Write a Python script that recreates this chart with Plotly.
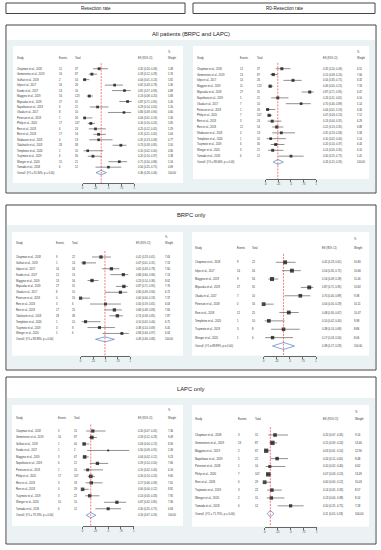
import plotly.graph_objects as go

# ------------------------------------------------------------------ data
# All patients - resection rate
A_res_study = ["Chapman et al., 2018", "Gemenetzis et al., 2019", "Gulhati et al., 2019", "Ielpo et al., 2017",
               "Kondo et al., 2017", "Maggino et al., 2019", "Miyasaka et al., 2019", "Napolitano et al., 2019",
               "Okada et al., 2017", "Peterson et al., 2018", "Philip et al., 2020", "Reni et al., 2018",
               "Reni et al., 2018", "Shabason et al., 2018", "Takahashi et al., 2018", "Templeton et al., 2020",
               "Tsujimoto et al., 2019", "Wenger et al., 2020", "Yamada et al., 2018"]
A_res_events = [12, 16, 2, 16, 13, 16, 27, 6, 8, 1, 17, 6, 17, 4, 28, 1, 6, 15, 6]
A_res_total = [37, 87, 54, 26, 16, 123, 31, 21, 10, 26, 107, 24, 54, 13, 38, 10, 30, 21, 12]
A_res_es = [0.32, 0.18, 0.04, 0.62, 0.81, 0.13, 0.87, 0.29, 0.80, 0.04, 0.16, 0.25, 0.31, 0.31, 0.74, 0.10, 0.20, 0.71, 0.50]
A_res_lo = [0.20, 0.12, 0.01, 0.43, 0.57, 0.08, 0.71, 0.14, 0.49, 0.01, 0.10, 0.12, 0.21, 0.13, 0.58, 0.02, 0.10, 0.50, 0.25]
A_res_hi = [0.49, 0.28, 0.13, 0.78, 0.93, 0.20, 0.95, 0.50, 0.94, 0.19, 0.24, 0.45, 0.45, 0.58, 0.85, 0.40, 0.37, 0.86, 0.75]
A_res_weight = [5.48, 5.76, 5.82, 5.30, 4.89, 5.83, 5.40, 5.16, 4.60, 5.30, 5.85, 5.29, 5.64, 4.77, 5.50, 4.80, 5.38, 5.16, 4.69]
A_res_overall = [0.36, 0.26, 0.46]
A_res_i2 = "91.84%"

# All patients - R0 resection rate
A_r0_study = ["Chapman et al., 2018", "Gemenetzis et al., 2019", "Ielpo et al., 2017", "Maggino et al., 2019",
              "Miyasaka et al., 2019", "Napolitano et al., 2019", "Okada et al., 2017", "Peterson et al., 2018",
              "Philip et al., 2020", "Reni et al., 2018", "Reni et al., 2018", "Shabason et al., 2018",
              "Templeton et al., 2020", "Tsujimoto et al., 2019", "Wenger et al., 2020", "Yamada et al., 2018"]
A_r0_events = [12, 13, 14, 11, 27, 5, 7, 1, 7, 3, 12, 4, 1, 6, 3, 6]
A_r0_total = [37, 87, 26, 123, 31, 21, 10, 26, 107, 24, 54, 13, 10, 30, 21, 12]
A_r0_es = [0.32, 0.15, 0.54, 0.09, 0.87, 0.24, 0.70, 0.04, 0.07, 0.13, 0.22, 0.31, 0.10, 0.20, 0.14, 0.50]
A_r0_lo = [0.20, 0.09, 0.35, 0.05, 0.71, 0.11, 0.40, 0.01, 0.03, 0.04, 0.13, 0.13, 0.02, 0.10, 0.05, 0.25]
A_r0_hi = [0.49, 0.24, 0.71, 0.15, 0.95, 0.45, 0.89, 0.19, 0.13, 0.31, 0.35, 0.58, 0.40, 0.37, 0.35, 0.75]
A_r0_weight = [6.51, 7.06, 6.32, 7.18, 6.47, 6.10, 5.14, 6.30, 7.12, 6.29, 6.88, 5.58, 5.14, 6.44, 6.10, 5.41]
A_r0_overall = [0.24, 0.15, 0.35]
A_r0_i2 = "88.66%"

# BRPC only - resection rate
B_res_study = ["Chapman et al., 2018", "Gulhati et al., 2019", "Ielpo et al., 2017", "Kondo et al., 2017",
               "Maggino et al., 2019", "Miyasaka et al., 2019", "Okada et al., 2017", "Peterson et al., 2018",
               "Reni et al., 2018", "Reni et al., 2018", "Takahashi et al., 2018", "Templeton et al., 2020",
               "Tsujimoto et al., 2019", "Wenger et al., 2020"]
B_res_events = [9, 1, 16, 12, 13, 27, 8, 0, 3, 17, 28, 1, 3, 5]
B_res_total = [22, 14, 26, 14, 56, 31, 10, 16, 6, 25, 38, 10, 8, 6]
B_res_es = [0.41, 0.07, 0.62, 0.86, 0.23, 0.87, 0.80, 0.00, 0.50, 0.68, 0.74, 0.10, 0.38, 0.83]
B_res_lo = [0.23, 0.01, 0.43, 0.60, 0.14, 0.71, 0.49, 0.00, 0.19, 0.48, 0.58, 0.02, 0.14, 0.44]
B_res_hi = [0.61, 0.31, 0.78, 0.96, 0.36, 0.95, 0.94, 0.19, 0.81, 0.83, 0.85, 0.40, 0.69, 0.97]
B_res_weight = [7.63, 7.13, 7.60, 7.13, 8.02, 7.76, 6.75, 7.37, 6.03, 7.63, 7.87, 6.75, 6.45, 6.03]
B_res_overall = [0.49, 0.30, 0.68]
B_res_i2 = "88.88%"

# BRPC only - R0 resection rate
B_r0_study = ["Chapman et al., 2018", "Ielpo et al., 2017", "Maggino et al., 2019", "Miyasaka et al., 2019",
              "Okada et al., 2017", "Peterson et al., 2018", "Reni et al., 2018", "Templeton et al., 2020",
              "Tsujimoto et al., 2019", "Wenger et al., 2020"]
B_r0_events = [9, 14, 9, 27, 7, 0, 12, 1, 3, 1]
B_r0_total = [22, 26, 56, 31, 10, 16, 25, 10, 8, 6]
B_r0_es = [0.41, 0.54, 0.16, 0.87, 0.70, 0.00, 0.48, 0.10, 0.38, 0.17]
B_r0_lo = [0.23, 0.35, 0.09, 0.71, 0.40, 0.00, 0.30, 0.02, 0.14, 0.03]
B_r0_hi = [0.61, 0.71, 0.28, 0.95, 0.89, 0.19, 0.67, 0.40, 0.69, 0.56]
B_r0_weight = [10.80, 10.66, 11.46, 10.82, 9.38, 10.11, 10.47, 9.38, 8.86, 8.06]
B_r0_overall = [0.38, 0.17, 0.59]
B_r0_i2 = "89.99%"

# LAPC only - resection rate
L_res_study = ["Chapman et al., 2018", "Gemenetzis et al., 2019", "Gulhati et al., 2019", "Kondo et al., 2017",
               "Maggino et al., 2019", "Napolitano et al., 2019", "Peterson et al., 2018", "Philip et al., 2020",
               "Reni et al., 2018", "Reni et al., 2018", "Tsujimoto et al., 2019", "Wenger et al., 2020",
               "Yamada et al., 2018"]
L_res_events = [3, 16, 1, 1, 3, 6, 1, 17, 3, 0, 3, 10, 6]
L_res_total = [15, 87, 40, 2, 67, 21, 10, 107, 18, 29, 22, 15, 12]
L_res_es = [0.20, 0.18, 0.03, 0.50, 0.04, 0.29, 0.10, 0.16, 0.17, 0.00, 0.14, 0.67, 0.50]
L_res_lo = [0.07, 0.12, 0.00, 0.09, 0.02, 0.14, 0.02, 0.10, 0.06, 0.00, 0.05, 0.42, 0.25]
L_res_hi = [0.45, 0.28, 0.13, 0.91, 0.12, 0.50, 0.40, 0.24, 0.39, 0.12, 0.33, 0.85, 0.75]
L_res_weight = [7.36, 9.49, 8.56, 2.49, 9.23, 7.66, 6.16, 9.60, 7.61, 8.81, 7.95, 7.36, 6.63]
L_res_overall = [0.16, 0.07, 0.26]
L_res_i2 = "79.19%"

# LAPC only - R0 resection rate
L_r0_study = ["Chapman et al., 2018", "Gemenetzis et al., 2019", "Maggino et al., 2019", "Napolitano et al., 2019",
              "Peterson et al., 2018", "Philip et al., 2020", "Reni et al., 2018", "Tsujimoto et al., 2019",
              "Wenger et al., 2020", "Yamada et al., 2018"]
L_r0_events = [3, 13, 2, 5, 1, 7, 0, 3, 2, 6]
L_r0_total = [15, 87, 67, 21, 10, 107, 29, 22, 15, 12]
L_r0_es = [0.20, 0.15, 0.03, 0.24, 0.10, 0.07, 0.00, 0.14, 0.13, 0.50]
L_r0_lo = [0.07, 0.09, 0.01, 0.11, 0.02, 0.03, 0.00, 0.05, 0.04, 0.25]
L_r0_hi = [0.45, 0.24, 0.10, 0.45, 0.40, 0.13, 0.12, 0.33, 0.38, 0.75]
L_r0_weight = [9.14, 13.40, 12.90, 8.48, 6.62, 13.49, 10.03, 8.57, 8.14, 7.28]
L_r0_overall = [0.11, 0.05, 0.18]
L_r0_i2 = "71.75%"

tick_vals = [0, 0.25, 0.5, 0.75, 1]
tick_text = ["0", ".25", ".5", ".75", "1"]
col_headers = ["Study", "Events", "Total", "ES (95% CI)"]
top_headers = ["Resection rate", "R0-Resection rate"]
section_titles = ["All patients (BRPC and LAPC)", "BRPC only", "LAPC only"]

# ------------------------------------------------------------------ geometry (pixels)
W, H = 381, 550
FONT = "Liberation Sans"
TEAL = "#eaf2f3"
TXT = "#333"


def PX(x):
    return x / W


def PY(y):
    return 1 - y / H


panels = [
    (A_res_study, A_res_events, A_res_total, A_res_es, A_res_lo, A_res_hi, A_res_weight, A_res_overall, A_res_i2,
     dict(x0v=82, x1v=134, axis_y=183, wx=(12, 183), top_y=46, row0=68.7, drow=5.47,
          cols=(14, 56, 72, 136, 166), hp=52, hy=58, fs=2.6)),
    (A_r0_study, A_r0_events, A_r0_total, A_r0_es, A_r0_lo, A_r0_hi, A_r0_weight, A_r0_overall, A_r0_i2,
     dict(x0v=266, x1v=317, axis_y=179, wx=(193, 370), top_y=46, row0=68.7, drow=5.83,
          cols=(195, 238, 255, 322, 356), hp=52, hy=58, fs=2.6)),
    (B_res_study, B_res_events, B_res_total, B_res_es, B_res_lo, B_res_hi, B_res_weight, B_res_overall, B_res_i2,
     dict(x0v=80, x1v=130, axis_y=355.7, wx=(11, 183), top_y=232, row0=257, drow=5.88,
          cols=(13.3, 53.3, 69, 133.3, 163.3), hp=237, hy=243, fs=2.6)),
    (B_r0_study, B_r0_events, B_r0_total, B_r0_es, B_r0_lo, B_r0_hi, B_r0_weight, B_r0_overall, B_r0_i2,
     dict(x0v=264, x1v=316.7, axis_y=355.7, wx=(192, 370), top_y=232, row0=262.3, drow=8.37,
          cols=(192.7, 235, 250, 320.7, 353.3), hp=239.3, hy=247.7, fs=2.65)),
    (L_res_study, L_res_events, L_res_total, L_res_es, L_res_lo, L_res_hi, L_res_weight, L_res_overall, L_res_i2,
     dict(x0v=82, x1v=133.5, axis_y=526, wx=(11, 183), top_y=405, row0=431, drow=6.48,
          cols=(13.3, 55, 71.7, 136, 165.7), hp=410, hy=417.7, fs=2.6)),
    (L_r0_study, L_r0_events, L_r0_total, L_r0_es, L_r0_lo, L_r0_hi, L_r0_weight, L_r0_overall, L_r0_i2,
     dict(x0v=265, x1v=317.3, axis_y=526.7, wx=(192, 370), top_y=405, row0=435, drow=7.87,
          cols=(192.7, 236.7, 253.3, 321.7, 354.3), hp=411.7, hy=419.3, fs=2.75)),
]

sections = [  # box y0, y1, title y, teal y0
    (25, 193, 34, 40),
    (205, 370, 215, 225),
    (377, 544, 389, 398),
]

fig = go.Figure()
shapes = []
annotations = []
axes = {}

# header boxes
for (x0, x1), txt in zip([(5, 185), (193, 376)], top_headers):
    shapes.append(dict(type="rect", xref="paper", yref="paper", x0=PX(x0), x1=PX(x1), y0=PY(13.5), y1=PY(3),
                       line=dict(color="#444", width=1), fillcolor="white", layer="below"))
    annotations.append(dict(xref="paper", yref="paper", x=PX((x0 + x1) / 2), y=PY(8.3), text=txt, showarrow=False,
                            font=dict(size=4.6, color="#222", family=FONT), xanchor="center", yanchor="middle"))

# section boxes
for (y0, y1, ty, t0), title in zip(sections, section_titles):
    shapes.append(dict(type="rect", xref="paper", yref="paper", x0=PX(5), x1=PX(377), y0=PY(y1), y1=PY(y0),
                       line=dict(color="#444", width=1), fillcolor="white", layer="below"))
    shapes.append(dict(type="rect", xref="paper", yref="paper", x0=PX(6), x1=PX(376), y0=PY(y1 - 1), y1=PY(t0),
                       line=dict(width=0), fillcolor=TEAL, layer="below"))
    annotations.append(dict(xref="paper", yref="paper", x=PX(191), y=PY(ty), text=title, showarrow=False,
                            font=dict(size=5.8, color="#222", family=FONT), xanchor="center", yanchor="middle"))

for k, (study, events, total, es, lo, hi, wt, ov, i2, g) in enumerate(panels, start=1):
    sfx = "" if k == 1 else str(k)
    xa, ya = "x" + sfx, "y" + sfx
    n = len(study)
    vb = -(g["axis_y"] - g["row0"]) / g["drow"]
    vt = (g["row0"] - g["top_y"]) / g["drow"]
    axes["xaxis" + sfx] = dict(domain=[PX(g["x0v"]), PX(g["x1v"])], range=[0, 1], anchor=ya,
                               showline=True, linecolor="#666", linewidth=0.6, ticks="outside", ticklen=2,
                               tickwidth=0.6, tickcolor="#666", tickvals=tick_vals, ticktext=tick_text,
                               tickfont=dict(size=2.6, color="#333", family=FONT), showgrid=False, zeroline=False,
                               fixedrange=True)
    axes["yaxis" + sfx] = dict(domain=[PY(g["axis_y"]), PY(g["top_y"])], range=[vb, vt], anchor=xa,
                               visible=False, fixedrange=True)
    # white plot region
    shapes.append(dict(type="rect", xref="paper", yref="paper", x0=PX(g["wx"][0]), x1=PX(g["wx"][1]),
                       y0=PY(g["axis_y"]), y1=PY(g["top_y"]), line=dict(width=0), fillcolor="white", layer="below"))
    ys = [-i for i in range(n)]
    # overall line
    shapes.append(dict(type="line", xref=xa, yref=ya, x0=ov[0], x1=ov[0], y0=1.0, y1=vb,
                       line=dict(color="#e8262a", width=0.6, dash="2px,1.2px"), layer="above"))
    # studies
    fig.add_trace(go.Scatter(
        x=es, y=ys, xaxis=xa, yaxis=ya, mode="markers", cliponaxis=False, showlegend=False,
        marker=dict(symbol="square", size=[1.2 * w ** 0.5 for w in wt], color="black", line=dict(width=0)),
        error_x=dict(type="data", symmetric=False, array=[h - e for h, e in zip(hi, es)],
                     arrayminus=[e - l for e, l in zip(es, lo)], width=0, thickness=0.5, color="#222")))
    # overall diamond
    dh = 0.42
    fig.add_trace(go.Scatter(
        x=[ov[1], ov[0], ov[2], ov[0], ov[1]], y=[-n, -n + dh, -n, -n - dh, -n], xaxis=xa, yaxis=ya,
        mode="lines", fill="toself", fillcolor="white", line=dict(color="#4f81bd", width=0.7),
        cliponaxis=False, showlegend=False))
    fs = g["fs"]
    cx = g["cols"]

    def add(x, y, text, yref=ya, size=fs):
        annotations.append(dict(xref="paper", yref=yref, x=PX(x), y=y, text=text, showarrow=False,
                                xanchor="left", yanchor="middle", font=dict(size=size, color=TXT, family=FONT)))

    for j, h in enumerate(col_headers):
        add(cx[j], PY(g["hy"]), h, yref="paper")
    add(cx[4], PY(g["hp"]), "%", yref="paper")
    add(cx[4], PY(g["hy"]), "Weight", yref="paper")
    for i in range(n):
        add(cx[0], -i, study[i])
        add(cx[1], -i, str(events[i]))
        add(cx[2], -i, str(total[i]))
        add(cx[3], -i, f"{es[i]:.2f} ({lo[i]:.2f}, {hi[i]:.2f})")
        add(cx[4], -i, f"{wt[i]:.2f}")
    add(cx[0], -n, f"Overall  (I^2 = {i2}, p = 0.00)")
    add(cx[3], -n, f"{ov[0]:.2f} ({ov[1]:.2f}, {ov[2]:.2f})")
    add(cx[4], -n, "100.00")

fig.update_layout(width=W, height=H, margin=dict(l=0, r=0, t=0, b=0), paper_bgcolor="white",
                  plot_bgcolor="rgba(0,0,0,0)", shapes=shapes, annotations=annotations, showlegend=False,
                  **axes)
fig.write_html("out.html", config={"displayModeBar": False},
               post_script="document.body.style.margin='0';document.body.style.overflow='hidden';")
